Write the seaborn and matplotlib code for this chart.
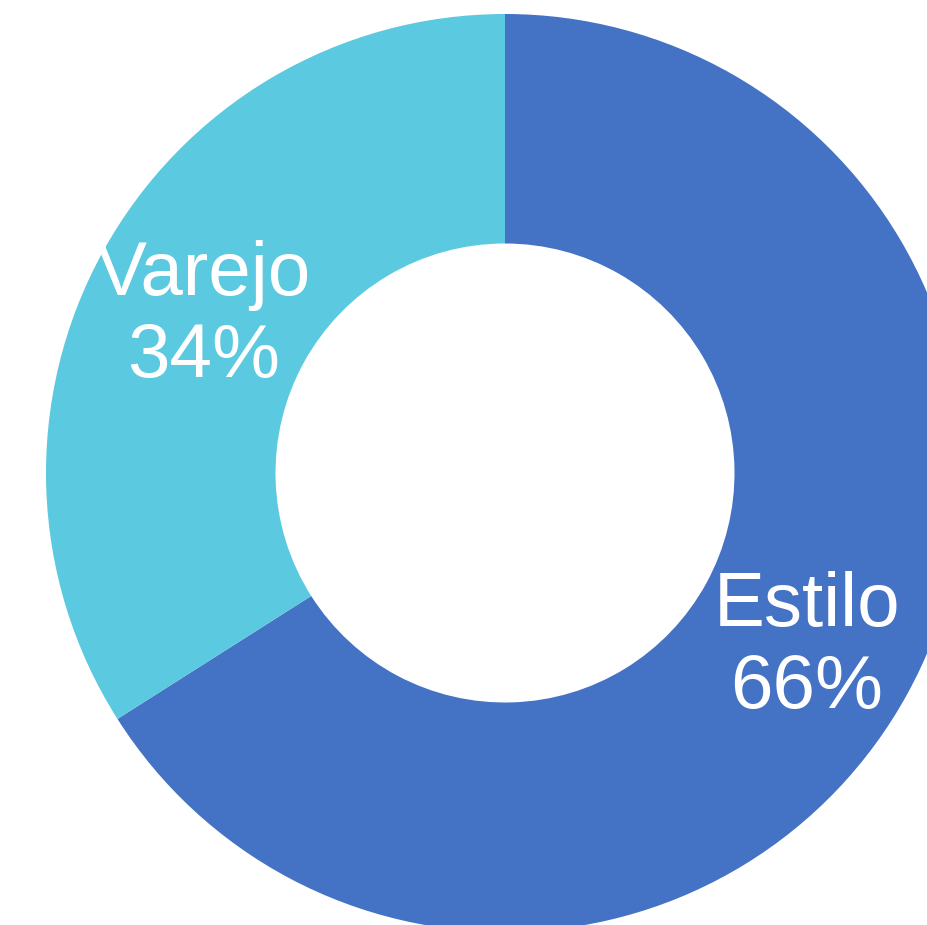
import matplotlib as mpl
import matplotlib.pyplot as plt
import seaborn as sns
from matplotlib.transforms import offset_copy

sns.set_theme(style='white')
plt.rcParams['font.family'] = ['Liberation Sans', 'DejaVu Sans']

segments = ['Estilo', 'Varejo']
shares = [66, 34]
colors = ['#4472C4', '#5BC9E0']

fig = plt.figure(figsize=(9.28, 9.25), dpi=100)
ax = fig.add_axes([0, 0, 1, 1])

names = iter(segments)
def fmt(pct):
    return f'{next(names)}\n{pct:.0f}%'

wedges, texts, autotexts = ax.pie(
    shares, colors=colors, startangle=90, counterclock=False,
    radius=1, wedgeprops=dict(width=0.5, linewidth=0),
    autopct=fmt, pctdistance=0.75,
    textprops=dict(color='white', fontsize=55),
)
for t in autotexts:
    t.set_linespacing(1.2)
    # labels sit a little lower in the reference
    t.set_transform(offset_copy(ax.transData, fig=fig, x=0, y=-9, units='dots'))

# pie center sits at (505, 473) px, outer radius ~459 px
ax.set_xlim(-505 / 459, 423 / 459)
ax.set_ylim(-452 / 459, 473 / 459)
ax.set_aspect('equal')
ax.set_axis_off()

fig.savefig('out.png', dpi=100)
